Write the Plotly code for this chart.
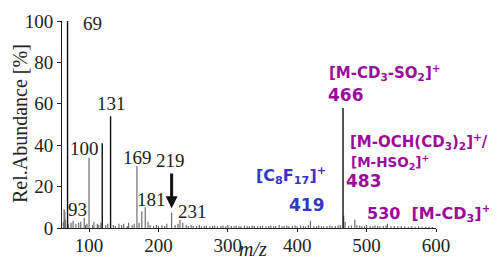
import plotly.graph_objects as go

# major (black) peaks
major_mz = [69, 119, 131, 466]
major_int = [100, 41, 54, 58]

# minor (grey) peaks incl. labelled ones and baseline noise
minor_mz = [63, 64, 65, 66, 69.5, 70, 74, 77, 81, 85, 88, 93, 95, 97, 100, 105, 107, 112, 114, 117, 124, 127,
            135, 138, 143, 147, 150, 155, 157, 162, 165, 169, 172, 176, 181, 185, 188, 193, 197, 200, 205,
            209, 212, 219, 224, 228, 231, 235, 240, 243, 247, 250, 255, 259, 262, 266, 269, 274, 278, 281,
            285, 290, 293, 297, 300, 305, 309, 312, 316, 319, 324, 328, 331, 335, 338, 343, 347, 350, 355,
            359, 362, 366, 369, 374, 378, 381, 385, 388, 393, 397, 400, 405, 409, 412, 416, 419, 424, 428,
            431, 435, 438, 443, 447, 450, 455, 459, 462, 467, 469, 474, 478, 483, 486, 490, 493, 497, 500,
            505, 509, 512, 516, 519, 524, 528, 530, 535, 540, 545, 550, 555, 560, 565, 570, 575, 580, 585,
            590, 595]
minor_int = [3, 9, 8, 4, 2, 1.5, 2.5, 3.5, 2, 2.5, 3, 5, 1.5, 2, 34, 1.5, 3, 2, 1.5, 2.5, 1.5, 2,
             1.5, 1, 2, 1.5, 2, 1, 2.5, 1.5, 2, 30, 2.5, 8, 10, 3, 1.5, 1, 1.5, 1, 1.5,
             1, 2, 7.5, 1.5, 2, 4, 2.5, 1.5, 1, 1.5, 1, 1, 1.5, 0.8, 1, 1.2, 0.8, 1, 1.2,
             0.8, 1, 1.2, 0.8, 1.5, 1, 0.8, 1.2, 1, 0.8, 1.2, 1, 0.8, 1.2, 1, 0.8, 1, 1.2, 0.8,
             1, 1.2, 0.8, 1, 1.5, 0.8, 1, 1.2, 0.8, 1, 1.2, 0.8, 1.2, 1, 0.8, 1.5, 3.5, 1, 0.8,
             1.2, 1, 0.8, 1, 1.2, 0.8, 1, 1.2, 1.5, 6, 3, 1, 1.2, 4, 1.5, 1.2, 0.8, 1, 1.5,
             1, 0.8, 1.2, 1, 0.8, 1, 1.2, 2, 0.8, 1, 0.8, 1, 0.8, 0.6, 0.8, 0.6, 0.8, 0.6, 0.5,
             0.6, 0.5]

# peak labels (text, m/z centre, intensity centre)
lab_text = ["69", "131", "100", "169", "219", "181", "93", "231"]
lab_x = [105.5, 133, 94, 170, 217.5, 190, 84, 249]
lab_y = [99, 60, 38.6, 34, 32.6, 13.8, 8.7, 8]


def sticks(mz, inten):
    xs, ys = [], []
    for m, v in zip(mz, inten):
        xs += [m, m, None]
        ys += [0, v, None]
    return xs, ys


fig = go.Figure()
xs, ys = sticks(minor_mz, minor_int)
fig.add_trace(go.Scatter(x=xs, y=ys, mode="lines", line=dict(color="#6e6e6e", width=1.2),
                         hoverinfo="skip", showlegend=False))
xs, ys = sticks(major_mz, major_int)
fig.add_trace(go.Scatter(x=xs, y=ys, mode="lines", line=dict(color="#111111", width=1.4),
                         hoverinfo="skip", showlegend=False))

serif = "Liberation Serif"
for t, x, y in zip(lab_text, lab_x, lab_y):
    fig.add_annotation(x=x, y=y, text=t, showarrow=False, xanchor="center", yanchor="middle",
                       font=dict(family=serif, size=19, color="#222222"))

# arrow pointing to 219
fig.add_annotation(x=219, y=9.5, ax=219, ay=27, axref="x", ayref="y", text="",
                   showarrow=True, arrowhead=2, arrowsize=0.8, arrowwidth=3, arrowcolor="#111111")

# plot area in screen pixels: x 62..436, y 21..228 (page has 8px body margin)
X0, X1, Y0, Y1 = 62, 436, 21, 228


def px2paper(px, py):
    return (px - X0) / (X1 - X0), (Y1 - py) / (Y1 - Y0)


purple = "#9b0a9b"
blue = "#3535c8"
sans = "DejaVu Sans"
ann = [
    ("<b>[M-CD<sub>3</sub>-SO<sub>2</sub>]<sup>+</sup></b>", 385, 72, 15, purple, "center"),
    ("<b>466</b>", 346, 95, 17, purple, "center"),
    ("<b>[M-OCH(CD<sub>3</sub>)<sub>2</sub>]<sup>+</sup>/</b>", 348, 141, 15, purple, "left"),
    ("<b>[M-HSO<sub>2</sub>]<sup>+</sup></b>", 349, 162, 13.5, purple, "left"),
    ("<b>483</b>", 364, 181, 17, purple, "center"),
    ("<b>530  [M-CD<sub>3</sub>]<sup>+</sup></b>", 429, 213, 16, purple, "center"),
    ("<b>[C<sub>8</sub>F<sub>17</sub>]<sup>+</sup></b>", 291, 175, 16, blue, "center"),
    ("<b>419</b>", 307, 205, 17, blue, "center"),
]
for t, px, py, fs, c, anc in ann:
    ax_, ay_ = px2paper(px, py)
    fig.add_annotation(x=ax_, y=ay_, xref="paper", yref="paper", text=t,
                       showarrow=False, xanchor=anc, yanchor="middle",
                       font=dict(family=sans, size=fs, color=c))

# axis titles
tx, ty = px2paper(253, 249)
fig.add_annotation(x=tx, y=ty, xref="paper", yref="paper", text="<i>m/z</i>", showarrow=False,
                   xanchor="center", yanchor="middle", font=dict(family=serif, size=20, color="#222"))
tx, ty = px2paper(20, 124)
fig.add_annotation(x=tx, y=ty, xref="paper", yref="paper", text="Rel.Abundance [%]", showarrow=False,
                   textangle=-90, xanchor="center", yanchor="middle",
                   font=dict(family=serif, size=20, color="#222"))

W, H = 489, 252
fig.update_layout(
    width=W, height=H,
    margin=dict(l=X0 - 8, r=W - (X1 - 8), t=Y0 - 8, b=H - (Y1 - 8), autoexpand=False),
    paper_bgcolor="white", plot_bgcolor="white",
    xaxis=dict(range=[61, 600], tickvals=[100, 200, 300, 400, 500, 600], ticks="outside",
               ticklen=3, tickcolor="#222", showline=True, linecolor="#222", linewidth=1,
               showgrid=False, zeroline=False, ticklabelstandoff=-3,
               tickfont=dict(family=serif, size=19, color="#222")),
    yaxis=dict(range=[0, 100], tickvals=[0, 20, 40, 60, 80, 100], ticks="outside", ticklen=4,
               tickcolor="#222", showline=True, linecolor="#222", linewidth=1, showgrid=False,
               zeroline=False, tickfont=dict(family=serif, size=19, color="#222")),
)
fig.write_html("out.html")
